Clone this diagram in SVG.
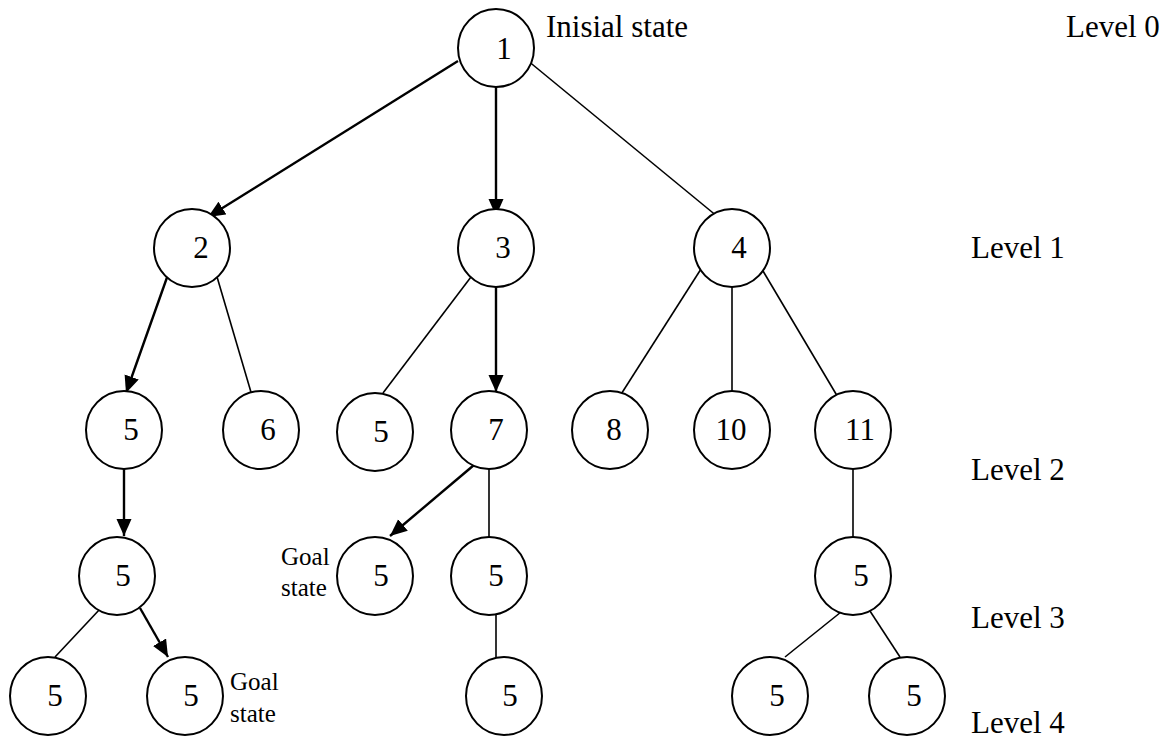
<svg xmlns="http://www.w3.org/2000/svg" width="1170" height="740" viewBox="0 0 1170 740">
<style>
.n ellipse{fill:#fff;stroke:#000;stroke-width:2}
.n text,.lbl{font-family:"Liberation Serif","Times New Roman",serif;font-size:31px;fill:#000}
.n text{text-anchor:middle}
.small{font-family:"Liberation Serif","Times New Roman",serif;font-size:25px;fill:#000}
.thin{stroke:#000;stroke-width:1.6;fill:none}
.bold{stroke:#000;stroke-width:2.4;fill:none;marker-end:url(#ah)}
</style>
<defs>
<marker id="ah" markerUnits="userSpaceOnUse" markerWidth="18" markerHeight="16" refX="17" refY="7.5" orient="auto">
<path d="M0,0 L17,7.5 L0,15 z" fill="#000"/>
</marker>
</defs>
<rect width="1170" height="740" fill="#fff"/>
<g id="connectors">
<line class="bold" x1="458" y1="61" x2="208" y2="217"/>
<line class="bold" x1="496" y1="87" x2="496" y2="216"/>
<line class="thin" x1="527" y1="60" x2="718" y2="217"/>
<line class="bold" x1="170" y1="269" x2="126" y2="393"/>
<line class="thin" x1="215" y1="270" x2="253" y2="399"/>
<line class="thin" x1="474" y1="273" x2="383" y2="393"/>
<line class="bold" x1="496" y1="287" x2="496" y2="392"/>
<line class="thin" x1="701" y1="269" x2="618" y2="399"/>
<line class="thin" x1="732" y1="287" x2="732" y2="391"/>
<line class="thin" x1="763" y1="271" x2="839" y2="399"/>
<line class="bold" x1="124" y1="464" x2="124" y2="536"/>
<line class="bold" x1="474" y1="465" x2="390" y2="536"/>
<line class="thin" x1="489" y1="464" x2="489" y2="537"/>
<line class="thin" x1="853" y1="465" x2="853" y2="537"/>
<line class="thin" x1="100" y1="609" x2="55" y2="657"/>
<line class="bold" x1="140" y1="608" x2="168" y2="657"/>
<line class="thin" x1="496" y1="608" x2="496" y2="657"/>
<line class="thin" x1="846" y1="608" x2="785" y2="657"/>
<line class="thin" x1="868" y1="608" x2="900" y2="657"/>
</g>
<g id="n1" class="n"><ellipse cx="496" cy="48" rx="38" ry="39"/><text x="504" y="59">1</text></g>
<g id="n2" class="n"><ellipse cx="192" cy="248" rx="38" ry="39"/><text x="201" y="258">2</text></g>
<g id="n3" class="n"><ellipse cx="496" cy="248" rx="38" ry="39"/><text x="503" y="258">3</text></g>
<g id="n4" class="n"><ellipse cx="732" cy="248" rx="38" ry="39"/><text x="739" y="258">4</text></g>
<g id="n5a" class="n"><ellipse cx="124" cy="430" rx="38" ry="39"/><text x="131" y="440">5</text></g>
<g id="n6" class="n"><ellipse cx="261" cy="430" rx="38" ry="39"/><text x="268" y="440">6</text></g>
<g id="n5b" class="n"><ellipse cx="375" cy="432" rx="38" ry="39"/><text x="381" y="442">5</text></g>
<g id="n7" class="n"><ellipse cx="489" cy="430" rx="38" ry="39"/><text x="496" y="440">7</text></g>
<g id="n8" class="n"><ellipse cx="610" cy="430" rx="38" ry="39"/><text x="614" y="440">8</text></g>
<g id="n10" class="n"><ellipse cx="732" cy="430" rx="38" ry="39"/><text x="731" y="440">10</text></g>
<g id="n11" class="n"><ellipse cx="853" cy="430" rx="38" ry="39"/><text x="860" y="440">11</text></g>
<g id="n5c" class="n"><ellipse cx="117" cy="576" rx="38" ry="39"/><text x="123" y="586">5</text></g>
<g id="n5goal1" class="n"><ellipse cx="375" cy="576" rx="38" ry="39"/><text x="381" y="586">5</text></g>
<g id="n5d" class="n"><ellipse cx="489" cy="576" rx="38" ry="39"/><text x="496" y="586">5</text></g>
<g id="n5e" class="n"><ellipse cx="853" cy="576" rx="38" ry="39"/><text x="861" y="586">5</text></g>
<g id="n5f" class="n"><ellipse cx="48" cy="696" rx="38" ry="39"/><text x="55" y="706">5</text></g>
<g id="n5goal2" class="n"><ellipse cx="185" cy="696" rx="38" ry="39"/><text x="191" y="706">5</text></g>
<g id="n5g" class="n"><ellipse cx="504" cy="696" rx="38" ry="39"/><text x="510" y="706">5</text></g>
<g id="n5h" class="n"><ellipse cx="770" cy="696" rx="38" ry="39"/><text x="777" y="706">5</text></g>
<g id="n5i" class="n"><ellipse cx="907" cy="696" rx="38" ry="39"/><text x="914" y="706">5</text></g>
<g id="labels">
<text class="lbl" x="546" y="37">Inisial state</text>
<text class="lbl" x="1066" y="37">Level 0</text>
<text class="lbl" x="971" y="258">Level 1</text>
<text class="lbl" x="971" y="480">Level 2</text>
<text class="lbl" x="971" y="628">Level 3</text>
<text class="lbl" x="971" y="733">Level 4</text>
<text class="small" x="281" y="565">Goal</text>
<text class="small" x="281" y="596">state</text>
<text class="small" x="230" y="690">Goal</text>
<text class="small" x="230" y="722">state</text>
</g>
</svg>
